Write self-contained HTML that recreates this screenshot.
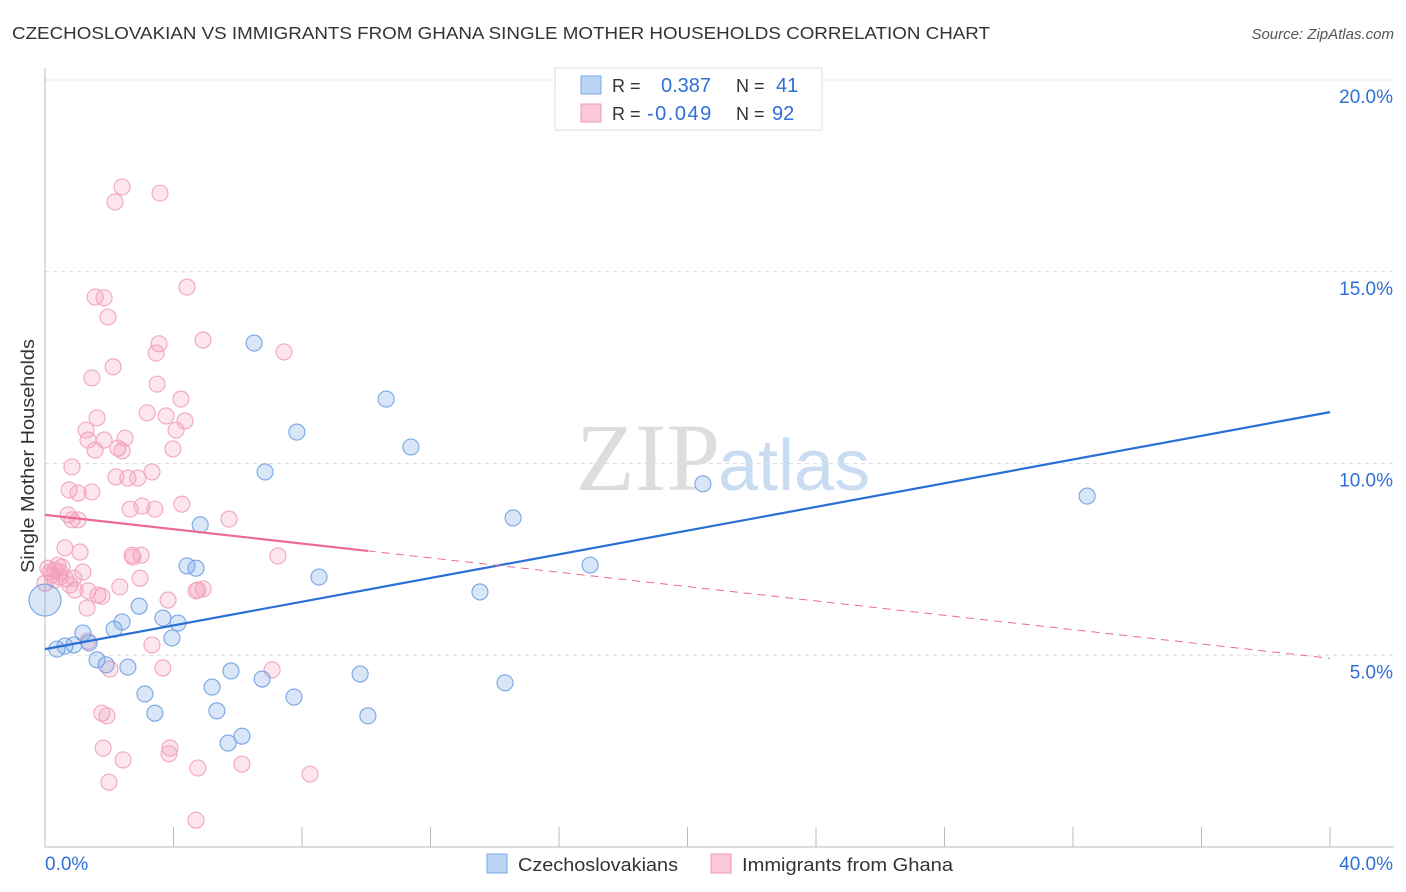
<!DOCTYPE html>
<html><head><meta charset="utf-8"><style>
body{margin:0;background:#fff;font-family:"Liberation Sans",sans-serif;}
svg{display:block}
</style></head><body>
<svg id="c" width="1406" height="892" xmlns="http://www.w3.org/2000/svg">
<text x="12" y="39" font-size="17.5" fill="#333" textLength="978" lengthAdjust="spacingAndGlyphs">CZECHOSLOVAKIAN VS IMMIGRANTS FROM GHANA SINGLE MOTHER HOUSEHOLDS CORRELATION CHART</text>
<text x="1394" y="39" font-size="15" fill="#555" font-style="italic" text-anchor="end">Source: ZipAtlas.com</text>
<text x="720" y="490" font-size="96" fill="#ddd" text-anchor="end" font-family="Liberation Serif,serif">ZIP</text>
<text x="718" y="490" font-size="72" fill="#c9dcf2">atlas</text>
<g id="grid"></g>
<g id="axes"></g>
<g id="marks"></g>
<text transform="translate(34,456) rotate(-90)" font-size="18" fill="#333" text-anchor="middle" textLength="234" lengthAdjust="spacingAndGlyphs">Single Mother Households</text>
<g>
<rect x="555" y="68" width="267" height="62" fill="#fff" stroke="#ddd"/>
<rect x="581" y="76" width="20" height="18" fill="#bcd4f5" stroke="#7aa7e6"/>
<rect x="581" y="104" width="20" height="18" fill="#fac8d7" stroke="#f09ab5"/>
<text x="612" y="92" font-size="18" fill="#333">R = </text><text x="661" y="92" font-size="20" fill="#2f6fd6">0.387</text>
<text x="736" y="92" font-size="18" fill="#333">N = </text><text x="776" y="92" font-size="20" fill="#2f6fd6">41</text>
<text x="612" y="120" font-size="18" fill="#333">R = </text><text x="647" y="120" font-size="20" fill="#2f6fd6" letter-spacing="1.5">-0.049</text>
<text x="736" y="120" font-size="18" fill="#333">N = </text><text x="772" y="120" font-size="20" fill="#2f6fd6">92</text>
</g>
<g>
<rect x="487" y="854" width="20" height="19" fill="#bcd4f5" stroke="#7aa7e6"/>
<text x="518" y="871" font-size="18" fill="#333" textLength="160" lengthAdjust="spacingAndGlyphs">Czechoslovakians</text>
<rect x="711" y="854" width="20" height="19" fill="#fac8d7" stroke="#f09ab5"/>
<text x="742" y="871" font-size="18" fill="#333" textLength="211" lengthAdjust="spacingAndGlyphs">Immigrants from Ghana</text>
</g>
</svg>
<script>
const blueX=[0,0.37,0.62,0.9,1.18,1.37,1.62,1.9,2.15,2.4,2.58,2.93,3.11,3.42,3.67,3.95,4.14,4.42,4.7,4.83,5.2,5.35,5.7,5.79,6.13,6.51,6.76,6.85,7.75,7.84,8.53,9.81,10.05,10.62,11.39,13.54,14.32,14.57,16.97,20.48,32.44];
const blueY=[6.44,5.16,5.24,5.27,5.58,5.32,4.88,4.75,5.68,5.87,4.69,6.28,3.99,3.49,5.97,5.45,5.84,7.33,7.27,8.4,4.17,3.55,2.71,4.59,2.89,13.14,4.38,9.78,3.91,10.82,7.04,4.51,3.42,11.68,10.43,6.65,4.28,8.58,7.35,9.47,9.15];
const pinkX=[0,0.09,0.22,0.31,0.4,0.53,0.47,0.16,0.62,0.72,0.84,0.65,0.78,0.93,1.09,1.03,0.84,0.75,1.03,1.46,1.28,1.34,1.62,1.56,1.84,1.46,1.56,1.84,1.96,2.12,2.18,2.4,3.58,4.42,4.92,7.44,3.55,3.46,3.49,4.23,3.18,3.77,4.36,4.08,3.98,2.49,2.27,2.4,2.21,2.58,2.89,3.33,2.65,3.02,3.42,4.26,5.73,2.71,2.99,2.74,2.96,2.33,1.34,1.65,1.77,1.31,1.18,3.83,4.76,4.92,4.7,7.25,3.33,3.67,1.34,2.02,1.77,1.93,1.81,2.43,3.89,3.86,4.76,6.13,8.25,1.99,4.7,7.07,0.9,0.31,0.47];
const pinkY=[6.88,7.27,7.09,7.22,7.35,7.3,7.17,7.17,7.8,8.66,8.53,6.99,6.83,6.7,7.69,8.53,9.91,9.31,9.23,9.26,10.87,10.61,11.19,10.35,10.61,12.23,14.34,14.32,13.82,12.52,16.82,17.21,17.05,14.6,13.22,12.91,13.12,12.88,12.07,11.68,11.32,11.24,11.11,10.87,10.38,10.66,10.4,10.33,9.65,9.62,9.62,9.78,8.81,8.89,8.81,8.94,8.55,7.61,7.61,7.56,7.01,6.78,6.68,6.57,6.54,6.23,7.17,6.44,6.7,6.73,6.68,7.59,5.27,4.67,5.37,4.64,3.49,3.42,2.58,2.27,2.58,2.43,2.06,2.16,1.9,1.69,0.7,4.62,7.01,6.96,7.04];
const blueLine=[5.16,0.1545]; // intercept, slope
const pinkLine=[8.66,-0.0935,10.05]; // intercept, slope, solid extent
const yTicks=[5,10,15,20];
const xTickLabels=["0.0%","40.0%"];
const NS="http://www.w3.org/2000/svg";
const X=v=>45+v*32.125, Y=v=>847-v*38.35;
function mk(tag,attrs,parent){const e=document.createElementNS(NS,tag);for(const k in attrs)e.setAttribute(k,attrs[k]);parent.appendChild(e);return e;}
const grid=document.getElementById('grid'),axes=document.getElementById('axes'),marks=document.getElementById('marks');
yTicks.forEach(t=>{
 const l=mk('line',{x1:45,x2:1394,y1:Y(t),y2:Y(t),stroke:'#ddd','stroke-dasharray':'4,4'},grid);
 
 
 const tx=mk('text',{x:1393,y:Y(t)+23,'font-size':19,fill:'#2f6fd6','text-anchor':'end'},axes);
 tx.textContent=t.toFixed(1)+'%';
 
 
});
mk('line',{x1:45,x2:45,y1:68,y2:847,stroke:'#bbb'},axes);
mk('line',{x1:45,x2:1394,y1:847,y2:847,stroke:'#bbb'},axes);
for(let i=0;i<=10;i++){const t=mk('line',{x1:X(i*4),x2:X(i*4),y1:827,y2:847,stroke:'#bbb'},axes);
 
 }
const xl0=mk('text',{x:45,y:870,'font-size':19,fill:'#2f6fd6'},axes);xl0.textContent=xTickLabels[0];


const xl1=mk('text',{x:1393,y:870,'font-size':19,fill:'#2f6fd6','text-anchor':'end'},axes);xl1.textContent=xTickLabels[1];


pinkX.forEach((x,i)=>{const c=mk('circle',{cx:X(x),cy:Y(pinkY[i]),r:8,fill:'rgba(245,150,180,0.25)',stroke:'#f2a6be','stroke-width':1.1},marks);
 
 });
blueX.forEach((x,i)=>{const c=mk('circle',{cx:X(x),cy:Y(blueY[i]),r:i===0?16:8,fill:'rgba(120,165,230,0.28)',stroke:'#78a5e4','stroke-width':1.1},marks);
 
 });
const bl=mk('line',{x1:X(0),y1:Y(blueLine[0]),x2:X(40),y2:Y(blueLine[0]+blueLine[1]*40),stroke:'#2a6fd6','stroke-width':2.2},marks);


const pl=mk('line',{x1:X(0),y1:Y(pinkLine[0]),x2:X(pinkLine[2]),y2:Y(pinkLine[0]+pinkLine[1]*pinkLine[2]),stroke:'#ec6a94','stroke-width':2.2},marks);


const pd=mk('line',{x1:X(pinkLine[2]),y1:Y(pinkLine[0]+pinkLine[1]*pinkLine[2]),x2:X(40),y2:Y(pinkLine[0]+pinkLine[1]*40),stroke:'#ec6a94','stroke-width':1,'stroke-dasharray':'8,6'},marks);


</script>
</body></html>
